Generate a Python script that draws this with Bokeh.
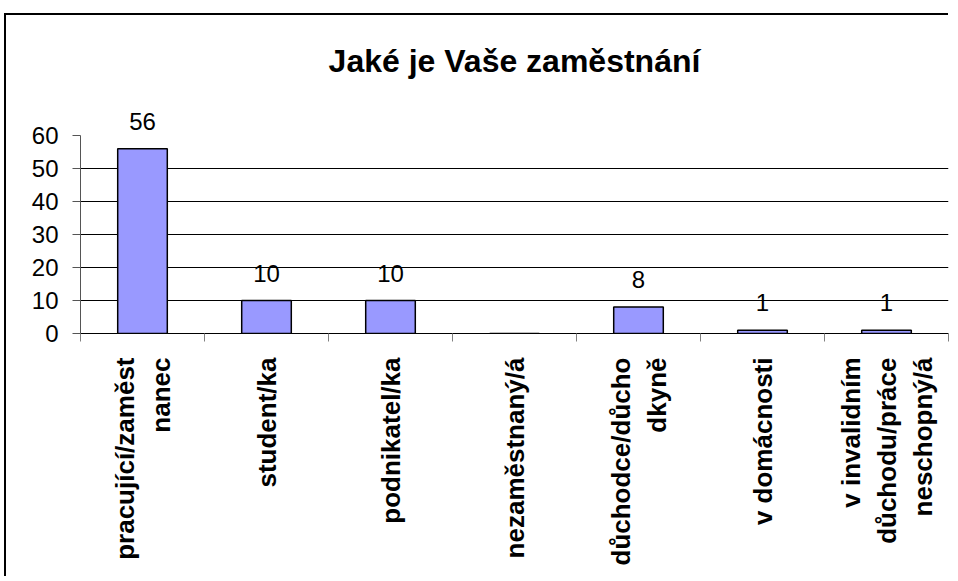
import math
from bokeh.plotting import figure
from bokeh.models import (FactorRange, Range1d, LinearAxis, CategoricalAxis, FixedTicker,
                          ColumnDataSource, LabelSet, Title)
from bokeh.core.properties import value
from bokeh.embed import file_html
from bokeh.resources import INLINE

title_text = "Jaké je Vaše zaměstnání"
categories = ["pracující/zaměst\nnanec", "student/ka", "podnikatel/ka", "nezaměstnaný/á",
              "důchodce/důcho\ndkyně", "v domácnosti", "v invalidním\ndůchodu/práce\nneschopný/á"]
values = [56, 10, 10, 0, 8, 1, 1]
value_labels = ["56", "10", "10", "", "8", "1", "1"]
y_ticks = [0, 10, 20, 30, 40, 50, 60]
grid_ticks = [10, 20, 30, 40, 50]
edge_ticks = [0, 1, 2, 3, 4, 5, 6, 7]

FONT = "Liberation Sans"

src = ColumnDataSource(dict(cat=categories, val=values, lab=value_labels))

p = figure(x_range=FactorRange(*categories), y_range=Range1d(0, 69.4),
           frame_width=868, frame_height=229,
           min_border_left=74, min_border_right=2, min_border_top=10, min_border_bottom=245,
           x_axis_location=None, output_backend="svg", toolbar_location=None)
p.margin = (15, 0, 0, 6)
p.styles = {"box-shadow": "-2px -2px 0 0 black"}
p.background_fill_color = None
p.border_fill_color = None
p.outline_line_color = None

p.title = Title(text=title_text, align="center", text_font=FONT, text_font_style="bold",
                text_font_size="32px", text_color="black", standoff=51)

p.vbar(x="cat", top="val", width=0.4, source=src, fill_color="#9999FF",
       line_color="black", line_width=1.5)

p.add_layout(LabelSet(x="cat", y="val", text="lab", source=src, y_offset=19,
                      text_align="center", text_baseline="alphabetic",
                      text_font=value(FONT), text_font_size=value("24px"), text_color="black"))

# y axis (line limited to 0..60)
ya = p.yaxis[0]
ya.ticker = FixedTicker(ticks=y_ticks)
ya.bounds = (0, 60)
ya.major_tick_out = 8
ya.major_tick_in = 0
ya.minor_tick_line_color = None
ya.axis_line_color = "#555555"
ya.major_tick_line_color = "#555555"
ya.major_label_text_font = FONT
ya.major_label_text_font_size = "24px"
ya.major_label_text_color = "black"
ya.major_label_standoff = 14

p.ygrid.ticker = FixedTicker(ticks=grid_ticks)
p.ygrid.grid_line_color = "black"
p.xgrid.grid_line_color = None

# x axis: boundary ticks (synthetic coordinates of the factor range) + category labels
tick_axis = LinearAxis(ticker=FixedTicker(ticks=edge_ticks),
                       major_tick_out=8, major_tick_in=0, minor_tick_line_color=None,
                       axis_line_color="black", major_tick_line_color="#808080",
                       major_label_text_font_size="0px", major_label_text_alpha=0,
                       major_label_standoff=0)
p.add_layout(tick_axis, "below")

label_axis = CategoricalAxis(major_tick_line_color=None, axis_line_color=None,
                             major_label_orientation=math.pi / 2,
                             major_label_text_font=FONT, major_label_text_font_style="bold",
                             major_label_text_font_size="26px", major_label_text_color="black",
                             major_label_standoff=10)
p.add_layout(label_axis, "below")

open("out.html", "w").write(file_html(p, INLINE))
